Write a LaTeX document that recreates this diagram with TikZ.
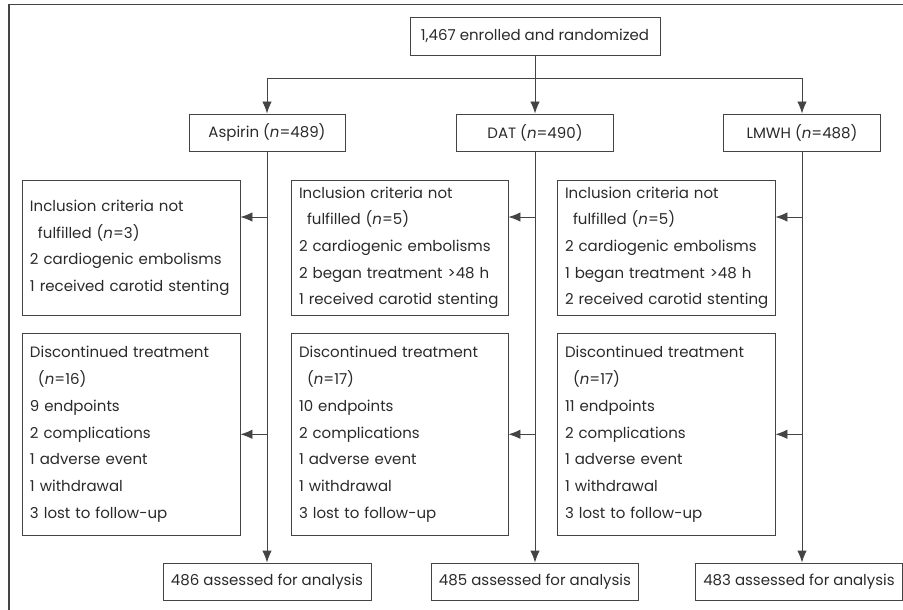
\documentclass[tikz,border=0pt]{standalone}
\usepackage{fontspec}
\setmainfont{Poppins}
\usetikzlibrary{arrows.meta}
\definecolor{linegray}{HTML}{444444}
\definecolor{txtgray}{HTML}{2A2A2A}
\begin{document}
\begin{tikzpicture}[x=1pt,y=-1pt,
  every node/.style={font=\fontsize{15}{26.7}\selectfont, text=txtgray},
  box/.style={draw=linegray, line width=0.9pt, rectangle, inner sep=0pt, minimum height=37pt},
  listbox/.style={draw=linegray, line width=0.9pt, rectangle, inner xsep=8pt, inner ysep=0pt, align=left},
  arr/.style={draw=linegray, line width=0.9pt, -{Latex[length=12pt,width=9.5pt]}},
  frame/.style={draw=linegray, line width=1.4pt}]
\useasboundingbox (0,0) rectangle (903,610);
\draw[frame] (903,4.5) -- (9,4.5) -- (9,610);

\node[box, minimum width=250pt, minimum height=38pt] (top) at (535,36) {1,467 enrolled and randomized};

\node[box, minimum width=156pt] (asp) at (267,132.5) {Aspirin (\textit{n}=489)};
\node[box, minimum width=157pt] (dat) at (535,132.5) {DAT (\textit{n}=490)};
\node[box, minimum width=157pt] (lmwh) at (802,132.5) {LMWH (\textit{n}=488)};

\node[listbox, text width=202pt, minimum height=135.5pt] (incA) at (131,247.75) {Inclusion criteria not\\\hspace*{8pt}fulfilled (\textit{n}=3)\\2 cardiogenic embolisms\\\mbox{1 received carotid stenting}};
\node[listbox, text width=201pt, minimum height=135.5pt] (incD) at (399.5,247.75) {Inclusion criteria not\\\hspace*{8pt}fulfilled (\textit{n}=5)\\2 cardiogenic embolisms\\2 began treatment >48 h\\\mbox{1 received carotid stenting}};
\node[listbox, text width=202pt, minimum height=135.5pt] (incL) at (666,247.75) {Inclusion criteria not\\\hspace*{8pt}fulfilled (\textit{n}=5)\\2 cardiogenic embolisms\\1 began treatment >48 h\\\mbox{2 received carotid stenting}};

\node[listbox, text width=202pt, minimum height=202.7pt] (disA) at (131,434.3) {Discontinued treatment\\\hspace*{8pt}(\textit{n}=16)\\9 endpoints\\2 complications\\1 adverse event\\1 withdrawal\\3 lost to follow-up};
\node[listbox, text width=201pt, minimum height=202.7pt] (disD) at (399.5,434.3) {Discontinued treatment\\\hspace*{8pt}(\textit{n}=17)\\10 endpoints\\2 complications\\1 adverse event\\1 withdrawal\\3 lost to follow-up};
\node[listbox, text width=202pt, minimum height=202.7pt] (disL) at (666,434.3) {Discontinued treatment\\\hspace*{8pt}(\textit{n}=17)\\11 endpoints\\2 complications\\1 adverse event\\1 withdrawal\\3 lost to follow-up};

\node[box, minimum width=208pt] (endA) at (267,581.5) {486 assessed for analysis};
\node[box, minimum width=207pt] (endD) at (535,581.5) {485 assessed for analysis};
\node[box, minimum width=207pt] (endL) at (799,581.5) {483 assessed for analysis};

\coordinate (split) at (535,78);
\draw[arr] (top.south) -- (dat.north);
\draw[arr] (split) -| (asp.north);
\draw[arr] (split) -| (lmwh.north);

\draw[arr] (asp.south) -- (asp.south |- endA.north);
\draw[arr] (dat.south) -- (dat.south |- endD.north);
\draw[arr] (lmwh.south) -- (lmwh.south |- endL.north);

\coordinate (iA) at (267,217);
\coordinate (iD) at (535,217);
\coordinate (iL) at (802,217);
\draw[arr] (iA) -- (iA -| incA.east);
\draw[arr] (iD) -- (iD -| incD.east);
\draw[arr] (iL) -- (iL -| incL.east);

\draw[arr] (asp.south |- disA.east) -- (disA.east);
\draw[arr] (dat.south |- disD.east) -- (disD.east);
\draw[arr] (lmwh.south |- disL.east) -- (disL.east);
\end{tikzpicture}
\end{document}
